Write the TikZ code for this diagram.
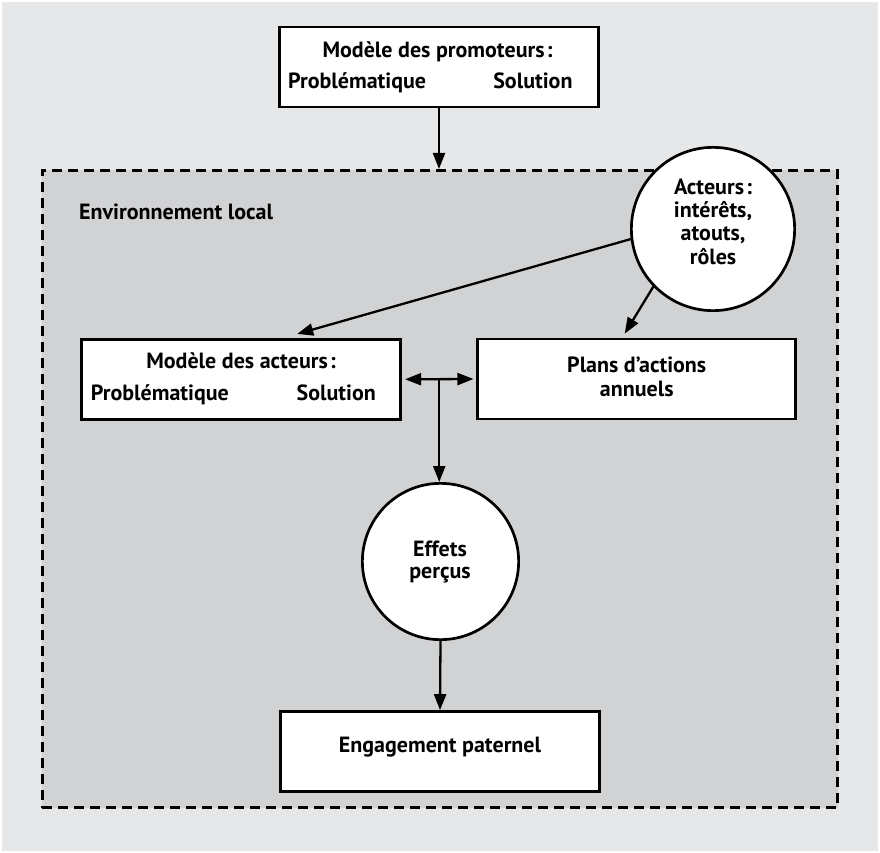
\documentclass[tikz,border=0pt]{standalone}
\usepackage{fontspec}
\setmainfont{PT Sans}
\usetikzlibrary{arrows.meta,calc}
\definecolor{outerbg}{HTML}{E6E7E8}
\definecolor{innerbg}{HTML}{D1D2D4}
\begin{document}
\begin{tikzpicture}[x=1pt,y=-1pt,
  box/.style={draw=black, line width=2.7pt, fill=white, minimum width=319pt,
    minimum height=80pt, inner sep=0pt},
  disc/.style={draw=black, line width=2.7pt, fill=white, circle, inner sep=0pt},
  lbl/.style={font=\bfseries\fontsize{22}{26}\selectfont, anchor=base, inner sep=0pt},
  arr/.style={line width=2.3pt, -{Triangle[length=16pt,width=12pt]}},
  darr/.style={line width=2.3pt, {Triangle[length=16pt,width=12pt]}-{Triangle[length=16pt,width=12pt]}},
]
% page and outer panel
\fill[white] (0,0) rectangle (880,853);
\fill[outerbg] (2,2) rectangle (878,851);
\useasboundingbox (0,0) rectangle (880,853);

% local environment frame
\node[draw=black, fill=innerbg, line width=3pt, dash pattern=on 10pt off 6pt,
  minimum width=795.6pt, minimum height=637pt, inner sep=0pt] (env) at (440,489) {};
\node[lbl, anchor=base west] (envlbl) at (79,219) {Environnement local};

% promoters' model
\node[box] (prom) at (439,67) {};
\node[lbl] (promT) at (437.5,57.3) {Modèle des promoteurs\hspace{2pt}:};
\node[lbl, anchor=base west] (promP) at (288,88.3) {Problématique};
\node[lbl, anchor=base east] (promS) at (572.7,88.3) {Solution};

% actors' model
\node[box] (ma) at (241.2,379.3) {};
\node[lbl] (maT) at (241,368) {Modèle des acteurs\hspace{2pt}:};
\node[lbl, anchor=base west] (maP) at (90.7,400) {Problématique};
\node[lbl, anchor=base east] (maS) at (376,400) {Solution};

% yearly action plans
\node[box, minimum width=317.8pt] (pa) at (636.7,379) {};
\node[lbl] (paA) at (636.7,372) {Plans d’actions};
\node[lbl] (paB) at (636.7,396) {annuels};

% actors
\node[disc, minimum size=163.3pt] (act) at (713,229) {};
\node[lbl] (actA) at (713,194) {Acteurs\hspace{2pt}:};
\node[lbl] (actB) at (713,217.3) {intérêts,};
\node[lbl] (actC) at (713,240.7) {atouts,};
\node[lbl] (actD) at (713,264) {rôles};

% perceived effects
\node[disc, minimum size=156.3pt] (eff) at (440.5,561.5) {};
\node[lbl] (effA) at (440,556.7) {Effets};
\node[lbl] (effB) at (440,578.5) {perçus};

% paternal engagement
\node[box] (eng) at (440,751.5) {};
\node[lbl] (engT) at (440,752.7) {Engagement paternel};

% connectors
\draw[arr] (prom.south) -- (prom.south |- env.north);
\draw[arr] (act.187) -- ([xshift=56pt,yshift=4pt]ma.north);
\draw[arr] (act.224) -- ([xshift=-12pt,yshift=4pt]pa.north);
\draw[darr, shorten <=3pt, shorten >=3pt] (ma.east) -- (pa.west);
\coordinate (junc) at ($(ma.east)!0.5!(pa.west)$);
\draw[arr] (junc) -- (junc |- eff.north);
\draw[arr] (eff.south) -- (eng.north);
\end{tikzpicture}
\end{document}
